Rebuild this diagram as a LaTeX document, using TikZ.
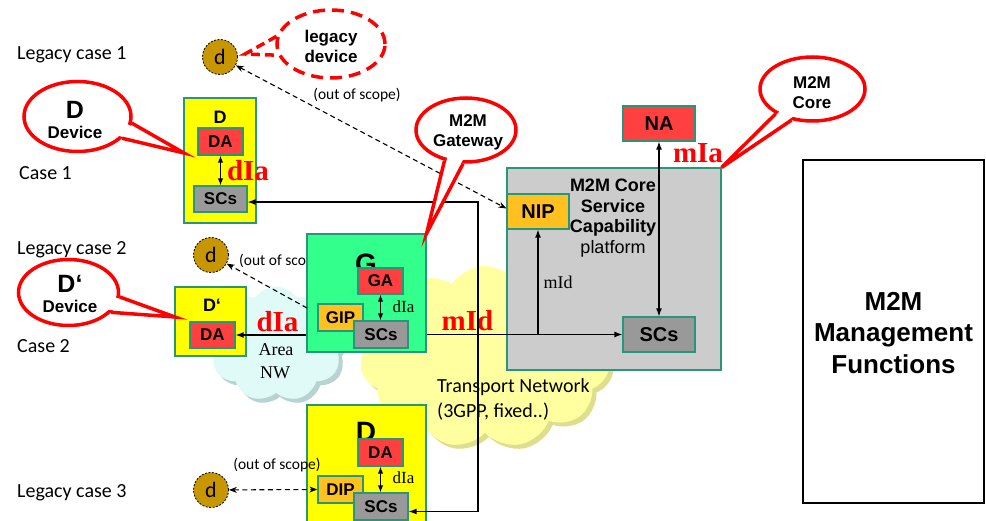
\documentclass[tikz,border=0pt]{standalone}
\usepackage{fontspec}
\newfontfamily\fA{Liberation Sans}
\newfontfamily\fC{Carlito}
\newfontfamily\fT{Liberation Serif}
\usetikzlibrary{arrows.meta,shapes.geometric,shapes.symbols,calc}
\definecolor{bord}{RGB}{40,150,120}
\definecolor{ylw}{RGB}{255,255,0}
\definecolor{grn}{RGB}{51,255,140}
\definecolor{rd}{RGB}{255,64,64}
\definecolor{org}{RGB}{255,192,32}
\definecolor{gry}{RGB}{153,153,153}
\definecolor{coreg}{RGB}{204,204,204}
\definecolor{gold}{RGB}{200,150,0}
\definecolor{cyancl}{RGB}{224,250,248}
\definecolor{cyansh}{RGB}{185,210,210}
\definecolor{ylwcl}{RGB}{255,255,160}
\definecolor{ylwsh}{RGB}{222,222,140}
\definecolor{pure}{RGB}{255,0,0}
\begin{document}
\begin{tikzpicture}[x=1pt,y=-1pt,
  lbl/.style={anchor=base west, inner sep=0, font=\fC\fontsize{20}{24}\selectfont},
  frame/.style={draw=bord, line width=1.2pt, inner sep=0},
  sbox/.style={draw=bord, line width=1.2pt, inner sep=0, font=\fA\bfseries\fontsize{17}{17}\selectfont},
  bbox/.style={draw=bord, line width=1.2pt, inner sep=0, font=\fA\bfseries\fontsize{20}{20}\selectfont},
  bigl/.style={inner sep=0, font=\fA\bfseries\fontsize{28}{28}\selectfont},
  midl/.style={inner sep=0, font=\fA\bfseries\fontsize{18}{18}\selectfont},
  dnode/.style={circle, draw=black, dash pattern=on 2pt off 1.5pt, line width=0.8pt, fill=gold, minimum size=35, inner sep=0, font=\fC\fontsize{22}{22}\selectfont},
  arr/.style={-{Latex[length=8pt,width=6pt]}, line width=1.3pt},
  barr/.style={{Latex[length=8pt,width=6pt]}-{Latex[length=8pt,width=6pt]}, line width=1.3pt},
  sbarr/.style={{Latex[length=7pt,width=5.5pt]}-{Latex[length=7pt,width=5.5pt]}, line width=1.3pt},
  darr/.style={dash pattern=on 5pt off 3.5pt, line width=1.1pt},
  tipa/.style={-{Stealth[length=8pt,width=6pt]}},
  tipb/.style={{Stealth[length=8pt,width=6pt]}-{Stealth[length=8pt,width=6pt]}},
  callout/.style={ellipse, draw=pure, line width=3.5pt, fill=white, inner sep=0},
  ctext/.style={align=center, inner sep=0, font=\fA\bfseries\fontsize{17}{20}\selectfont},
  bigred/.style={text=pure, inner sep=0, font=\fT\bfseries\fontsize{29}{29}\selectfont},
  smser/.style={inner sep=0, font=\fT\fontsize{18}{18}\selectfont},
  oos/.style={inner sep=0, font=\fC\fontsize{15.5}{16}\selectfont},
  cloudb/.style={cloud, cloud puffs=11, cloud puff arc=115, cloud ignores aspect, inner sep=0}
]
\useasboundingbox (0,0) rectangle (986,521);

% clouds
\node[cloudb, minimum width=250, minimum height=182, fill=ylwsh] (cl2s) at (489,361) {};
\node[cloudb, minimum width=250, minimum height=182, fill=ylwcl] (cl2) at (485,357) {};
\node[cloudb, cloud puffs=9, minimum width=136, minimum height=115, fill=cyansh] (cl1s) at (280,348) {};
\node[cloudb, cloud puffs=9, minimum width=136, minimum height=115, fill=cyancl] (cl1) at (276,344) {};

% left labels
\node[lbl] (lc1) at (17,60) {Legacy case 1};
\node[lbl] (c1) at (19,180) {Case 1};
\node[lbl] (lc2) at (17,255) {Legacy case 2};
\node[lbl] (c2) at (17,353) {Case 2};
\node[lbl] (lc3) at (17,497) {Legacy case 3};

% legacy devices
\node[dnode] (d1) at (220,57) {d};
\node[dnode] (d2) at (211,255) {d};
\node[dnode] (d3) at (211,490) {d};

% transport text
\node[anchor=west, align=left, inner sep=0, font=\fC\fontsize{20}{25}\selectfont] (tn) at (437,399) {Transport Network\\(3GPP, fixed..)};
\node[smser] (area) at (276,350) {Area};
\node[smser] (nw) at (275,373) {NW};

% out of scope labels
\node[oos] (oos1) at (357,95) {(out of scope)};
\node[oos, anchor=west] (oos2) at (239,261) {(out of scope)};

% case 1 device
\node[frame, fill=ylw, minimum width=72, minimum height=125] (D1) at (220,160.5) {};
\node[midl] (D1t) at (220,117) {D};
\node[sbox, fill=rd, minimum width=45, minimum height=27] (DA1) at (220.5,141.5) {DA};
\node[sbox, fill=gry, minimum width=53, minimum height=26] (SC1) at (220.5,199) {SCs};
\node[bigred] (dia1) at (248,171) {dIa};

% gateway
\node[frame, fill=grn, minimum width=119, minimum height=118] (G) at (366.5,293) {};
\node[bigl] (Gt) at (366,264) {G};
\node[sbox, fill=rd, minimum width=45, minimum height=26] (GA) at (380.5,281) {GA};
\node[sbox, fill=org, minimum width=45, minimum height=27] (GIP) at (340.5,317.5) {GIP};
\node[sbox, fill=gry, minimum width=54, minimum height=27] (SCg) at (381,334.5) {SCs};
\node[smser, font=\fT\fontsize{17}{17}\selectfont] (dia2) at (403.5,307) {dIa};

% case 2 device
\node[frame, fill=ylw, minimum width=71, minimum height=69] (D2) at (210.5,321.5) {};
\node[midl] (D2t) at (212,305) {D‘};
\node[sbox, fill=rd, minimum width=45, minimum height=26] (DA2) at (212.5,335) {DA};
\node[bigred] (dia3) at (277.5,322) {dIa};

% core
\node[frame, fill=coreg, minimum width=214, minimum height=202] (core) at (614,269) {};
\node[align=center, inner sep=0, font=\fA\bfseries\fontsize{18}{20.7}\selectfont] (coret) at (613,218) {M2M Core\\Service\\Capability\\{\mdseries platform}};
\node[bbox, fill=org, minimum width=62, minimum height=35] (NIP) at (538,211.5) {NIP};
\node[bbox, fill=rd, minimum width=72, minimum height=35] (NA) at (659,123.5) {NA};
\node[bbox, fill=gry, minimum width=72, minimum height=35] (SCc) at (659,334.5) {SCs};
\node[bigred] (mia) at (698,153) {mIa};
\node[bigred] (mid1) at (467.5,321) {mId};
\node[smser] (mid2) at (558,282) {mId};

% case 3 device
\node[frame, fill=ylw, minimum width=119, minimum height=125] (D3) at (366.5,467.5) {};
\node[bigl] (D3t) at (366,432) {D};
\node[sbox, fill=rd, minimum width=45, minimum height=27] (DA3) at (380.5,452.5) {DA};
\node[sbox, fill=org, minimum width=45, minimum height=27] (DIP) at (340.5,489.5) {DIP};
\node[sbox, fill=gry, minimum width=54, minimum height=27] (SC3) at (381,506.5) {SCs};
\node[smser, font=\fT\fontsize{17}{17}\selectfont] (dia4) at (403.5,478) {dIa};
\node[oos] (oos3) at (277,465) {(out of scope)};

% management
\node[draw=black, line width=2.5pt, minimum width=181, minimum height=343, inner sep=0] (mgmt) at (893.5,331.5) {};
\node[align=center, inner sep=0, font=\fA\bfseries\fontsize{26}{31.5}\selectfont] (mgmtt) at (893.5,333) {M2M\\Management\\Functions};

% connectors
\coordinate (vx) at (478,0);
\coordinate (c1) at ($(SC1.east)+(0,3)$);
\coordinate (c3) at ($(SC3.east)+(0,5)$);
\draw[barr] (c1) -| (vx |- c3) -- (c3);
\draw[sbarr] (DA1.south) -- (SC1.north);
\draw[sbarr] (GA.south) -- (GA.south |- SCg.north);
\draw[sbarr] (DA3.south) -- (DA3.south |- SC3.north);
\draw[arr] (G.west |- DA2.east) -- (DA2.east);
\draw[arr] (G.east |- SCc.west) -- (SCc.west);
\draw[arr] (NIP.south |- SCc.west) -- (NIP.south);
\draw[barr] (NA.south) -- (SCc.north);
\draw[darr, tipb] (d1) -- ([yshift=3pt]NIP.west);
\coordinate (gs) at (307,308);
\draw[darr, tipa] (gs) -- (d2);
\draw[darr, tipb] (d3) -- (DIP.west);

% callouts
\coordinate (tD) at (184,153);
\node[callout, minimum width=107, minimum height=70] (cD) at (77.5,116.5) {};
\fill[white] ($(cD.-7)!0.15!(cD.center)$) -- (tD) -- ($(cD.-26)!0.15!(cD.center)$) -- cycle;
\draw[pure, line width=3.5pt] (cD.-7) -- (tD) -- (cD.-26);
\node[ctext] (cDt) at (75,120) {{\fontsize{25}{25}\selectfont D}\\Device};

\coordinate (tD2) at (175,317);
\node[callout, minimum width=100, minimum height=66] (cD2) at (68.5,292.5) {};
\fill[white] ($(cD2.-5)!0.15!(cD2.center)$) -- (tD2) -- ($(cD2.-25)!0.15!(cD2.center)$) -- cycle;
\draw[pure, line width=3.5pt] (cD2.-5) -- (tD2) -- (cD2.-25);
\node[ctext] (cD2t) at (70,294) {{\fontsize{25}{25}\selectfont D‘}\\Device};

\node[callout, minimum width=100, minimum height=64] (cG) at (466,130) {};
\fill[white] ($(cG.-125)!0.15!(cG.center)$) -- (G.north east) -- ($(cG.-95)!0.15!(cG.center)$) -- cycle;
\draw[pure, line width=3.5pt] (cG.-125) -- (G.north east) -- (cG.-95);
\node[ctext] (cGt) at (468,132) {M2M\\Gateway};

\node[callout, minimum width=105, minimum height=64] (cC) at (812.5,89) {};
\fill[white] ($(cC.-146)!0.15!(cC.center)$) -- (core.north east) -- ($(cC.-124)!0.15!(cC.center)$) -- cycle;
\draw[pure, line width=3.5pt] (cC.-146) -- (core.north east) -- (cC.-124);
\node[ctext] (cCt) at (812,93) {M2M\\Core};

\coordinate (tL) at (245,54);
\node[callout, dash pattern=on 12pt off 7pt, minimum width=108, minimum height=68] (cL) at (331,44) {};
\draw[pure, line width=3.5pt, dash pattern=on 9pt off 5pt] (cL.172) -- (tL) -- (cL.192);
\node[ctext] (cLt) at (331,46) {legacy\\device};
\end{tikzpicture}
\end{document}
